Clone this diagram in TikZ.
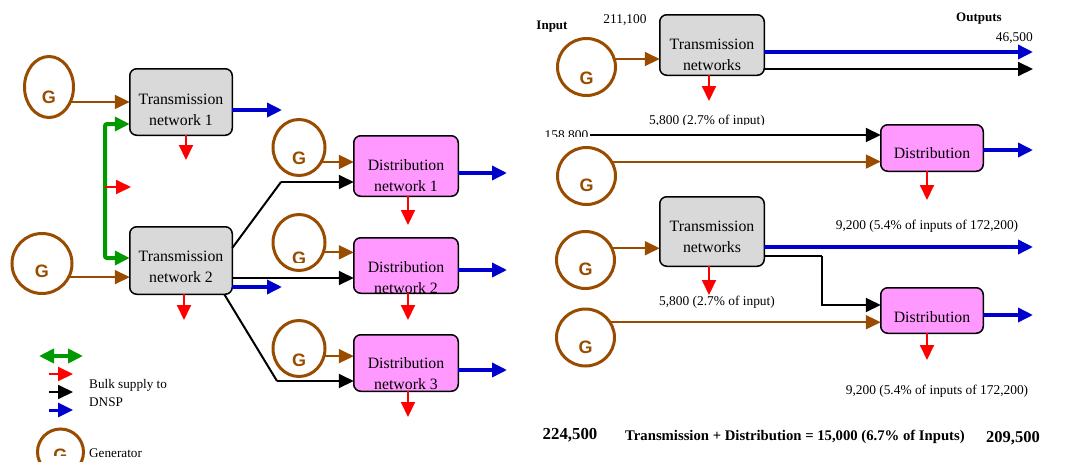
\documentclass[tikz,border=0pt]{standalone}
\usepackage{fontspec}
\setmainfont{Liberation Serif}
\newfontfamily\gfont{Liberation Sans}
\usetikzlibrary{arrows.meta,shapes.geometric,calc}

\definecolor{genbrown}{RGB}{153,76,0}
\definecolor{outblue}{RGB}{0,0,204}
\definecolor{busgreen}{RGB}{0,153,0}
\definecolor{lossred}{RGB}{255,0,0}
\definecolor{boxgray}{RGB}{217,217,217}
\definecolor{boxpink}{RGB}{255,153,255}

\tikzset{
  gen/.style={ellipse, draw=genbrown, line width=3pt, inner sep=0pt, outer sep=0pt},
  gletter/.style={font=\gfont\bfseries\fontsize{18}{18}\selectfont, text=genbrown, inner sep=0pt},
  tbox/.style={draw, line width=1.5pt, rounded corners=7pt, fill=boxgray, inner sep=0pt, outer sep=0pt},
  dbox/.style={tbox, fill=boxpink},
  boxtext/.style={font=\fontsize{15.8}{21}\selectfont, align=center, inner sep=0pt, draw=none, fill=none},
  inside/.style 2 args={path picture={\node[boxtext] at ([yshift=#2]path picture bounding box.center) {#1};}},
  tip/.style={-{Triangle[length=15pt,width=14pt]}},
  feed/.style={tip, genbrown, line width=2pt},
  bluearr/.style={tip, outblue, line width=3.5pt},
  blackarr/.style={tip, black, line width=2pt},
  redarr/.style={tip, lossred, line width=2pt},
  greenarr/.style={{Triangle[length=15pt,width=14pt]}-{Triangle[length=15pt,width=14pt]}, busgreen, line width=4pt, rounded corners=2pt},
  small/.style={font=\fontsize{13.4}{18}\selectfont, inner sep=0pt},
  smallbold/.style={font=\bfseries\fontsize{13}{16}\selectfont, inner sep=0pt},
  total/.style={font=\bfseries\fontsize{16.8}{20}\selectfont, inner sep=0pt},
}

\begin{document}
\begin{tikzpicture}[x=1pt,y=-1pt]
\useasboundingbox (0,0) rectangle (1088,461);
\clip (0,0) rectangle (1088,461);

% ---------------- network with several distribution networks ----------------
% generators feeding the transmission networks
\node[gen, minimum width=49pt, minimum height=61pt] (g1) at (49,87) {};
\node[gletter] at ([yshift=-10pt]g1.center) {G};
\node[gen, minimum width=60pt, minimum height=60pt] (g2) at (42,263.5) {};
\node[gletter] at ([yshift=-7.5pt]g2.center) {G};

% transmission networks
\node[tbox, minimum width=102.5pt, minimum height=66.5pt, inside={Transmission\\network 1}{-8pt}] (tn1) at (181,102) {};
\node[tbox, minimum width=102.5pt, minimum height=67.5pt, inside={Transmission\\network 2}{-6.5pt}] (tn2) at (181,260.5) {};

% distribution networks
\node[dbox, minimum width=104.5pt, minimum height=60.5pt, inside={Distribution\\network 1}{-9.5pt}] (dn1) at (406,166) {};
\node[dbox, minimum width=104.5pt, minimum height=55.5pt, inside={Distribution\\network 2}{-12pt}] (dn2) at (406,265.5) {};
\node[dbox, minimum width=104.5pt, minimum height=56.5pt, inside={Distribution\\network 3}{-11pt}] (dn3) at (406,363) {};

% embedded generators at the distribution networks
\node[gen, minimum width=52pt, minimum height=56pt] (gd1) at (299,147.5) {};
\node[gletter] at ([yshift=-10.5pt]gd1.center) {G};
\node[gen, minimum width=52pt, minimum height=56pt] (gd2) at (299,242.5) {};
\begin{scope}
  \clip (270,240) rectangle (330,262.5);
  \node[gletter] at ([yshift=-16pt]gd2.center) {G};
\end{scope}
\node[gen, minimum width=52pt, minimum height=56pt] (gd3) at (299,348.5) {};
\node[gletter] at ([yshift=-11.5pt]gd3.center) {G};

% generator connections
\draw[feed] (g1.-35) -- (g1.-35 -| tn1.west);
\draw[feed] (g2.-27) -- (g2.-27 -| tn2.west);
\draw[feed] (gd1.-33) -- (gd1.-33 -| dn1.west);
\draw[feed] (gd2.-22) -- (gd2.-22 -| dn2.west);
\draw[feed] (gd3.-17) -- (gd3.-17 -| dn3.west);

% interconnector between the transmission networks
\coordinate (bustop) at (105,124);
\coordinate (busbot) at (105,258);
\coordinate (busmid) at (105,187);
\coordinate (busloss) at (131,187);
\draw[greenarr] (tn1.west |- bustop) -- (bustop) -- (busbot) -- (tn2.west |- busbot);
\draw[redarr] (busmid) -- (busloss);

% bulk supply from transmission network 2
\coordinate (k1) at (281,182);
\coordinate (k3) at (277,381);
\draw[black, line width=2pt] ([yshift=12.5pt]tn2.east) -- (k1);
\draw[blackarr] (k1) -- (dn1.west |- k1);
\draw[blackarr] ([yshift=-17.5pt]tn2.east) -- ([yshift=-17.5pt]tn2.east -| dn2.west);
\draw[black, line width=2pt] ([xshift=-8pt]tn2.south east) -- (k3);
\draw[blackarr] (k3) -- (dn3.west |- k3);

% outputs
\coordinate (o1) at (282,110);
\coordinate (o2) at (282,287);
\coordinate (o3) at (507,173);
\coordinate (o4) at (507,270);
\coordinate (o5) at (507,370);
\draw[bluearr] (tn1.east |- o1) -- (o1);
\draw[bluearr] (tn2.east |- o2) -- (o2);
\draw[bluearr] (dn1.east |- o3) -- (o3);
\draw[bluearr] (dn2.east |- o4) -- (o4);
\draw[bluearr] (dn3.east |- o5) -- (o5);

% losses
\coordinate (l1) at (186,160);
\coordinate (l2) at (184,320);
\coordinate (l3) at (408,225);
\coordinate (l4) at (408,320);
\coordinate (l5) at (408,417);
\draw[redarr] (tn1.south -| l1) -- (l1);
\draw[redarr] (tn2.south -| l2) -- (l2);
\draw[redarr] (dn1.south -| l3) -- (l3);
\draw[redarr] (dn2.south -| l4) -- (l4);
\draw[redarr] (dn3.south -| l5) -- (l5);

% legend
\coordinate (lga) at (39,356);  \coordinate (lgb) at (83,356);
\coordinate (lra) at (49,374);  \coordinate (lrb) at (73,374);
\coordinate (lka) at (49,392);  \coordinate (lkb) at (73,392);
\coordinate (lba) at (49,410);  \coordinate (lbb) at (73,410);
\draw[busgreen, line width=4pt, {Triangle[length=15pt,width=14pt]}-{Triangle[length=15pt,width=14pt]}] (lga) -- (lgb);
\draw[redarr] (lra) -- (lrb);
\draw[blackarr] (lka) -- (lkb);
\draw[bluearr, line width=3pt] (lba) -- (lbb);
\node[small, anchor=west, align=left, font=\fontsize{13.2}{18}\selectfont] (legbulk) at (89,393) {Bulk supply to\\DNSP};
\node[gen, minimum width=46pt, minimum height=46pt] (gleg) at (60.5,452) {};
\begin{scope}
  \clip (40,440) rectangle (80,455);
  \node[gletter] at ([yshift=-3pt]gleg.center) {G};
\end{scope}
\node[small, anchor=west, font=\fontsize{13.2}{18}\selectfont] (leggen) at (89,453) {Generator};

% ---------------- aggregated balance ----------------
\node[smallbold] (inlbl) at (552,27) {Input};
\node[small] (inval) at (625,20) {211,100};
\node[smallbold] (outlbl) at (979,19) {Outputs};
\node[small, anchor=east] (outval) at (1033,38) {46,500};

\node[gen, minimum width=58pt, minimum height=57pt] (ga) at (586.5,67) {};
\node[gletter] at ([yshift=-11pt]ga.center) {G};
\node[gen, minimum width=58pt, minimum height=57pt] (gb) at (586.5,176) {};
\node[gletter] at ([yshift=-9pt]gb.center) {G};
\node[gen, minimum width=58pt, minimum height=57pt] (gc) at (585.5,260) {};
\node[gletter] at ([yshift=-9pt]gc.center) {G};
\node[gen, minimum width=58pt, minimum height=57pt] (ge) at (585.5,337.5) {};
\node[gletter] at ([yshift=-9.5pt]ge.center) {G};

\node[tbox, minimum width=104.5pt, minimum height=60.5pt, inside={Transmission\\networks}{-10pt}] (tna) at (712,45) {};
\node[tbox, minimum width=104.5pt, minimum height=69.5pt, inside={Transmission\\networks}{-5pt}] (tnb) at (712,231.5) {};
\node[dbox, minimum width=102.5pt, minimum height=46.5pt, inside={Distribution}{-5pt}] (da) at (932,148) {};
\node[dbox, minimum width=102.5pt, minimum height=45.5pt, inside={Distribution}{-6.5pt}] (db) at (932,310.5) {};

% generation into the networks
\draw[feed] (ga.16) -- (ga.16 -| tna.west);
\draw[feed] (gb.30) -- (gb.30 -| da.west);
\draw[feed] (gc.24) -- (gc.24 -| tnb.west);
\draw[feed] (ge.32) -- (ge.32 -| db.west);

% bulk supply
\begin{scope}
  \clip (530,120) rectangle (600,136.3);
  \node[small, anchor=base] (bulklbl) at (566.5,139.5) {158,800};
\end{scope}
\coordinate (bulk) at (590,135);
\draw[blackarr] (bulk) -- (da.west |- bulk);
\coordinate (kb) at (822,256);
\draw[black, line width=2pt] (tnb.east |- kb) -- (kb);
\draw[blackarr] (kb) |- ([yshift=5.5pt]db.west);

% outputs
\coordinate (oa) at (1033,52);
\coordinate (ob) at (1033,69);
\coordinate (oc) at (1033,150);
\coordinate (od) at (1033,247);
\coordinate (oe) at (1033,315);
\draw[bluearr] (tna.east |- oa) -- (oa);
\draw[blackarr] (tna.east |- ob) -- (ob);
\draw[bluearr] (da.east |- oc) -- (oc);
\draw[bluearr] (tnb.east |- od) -- (od);
\draw[bluearr] (db.east |- oe) -- (oe);

% losses
\coordinate (la) at (709,101);
\coordinate (lb) at (927,200);
\coordinate (lc) at (709,295);
\coordinate (ld) at (927,360);
\draw[redarr] (tna.south -| la) -- (la);
\draw[redarr] (da.south -| lb) -- (lb);
\draw[redarr] (tnb.south -| lc) -- (lc);
\draw[redarr] (db.south -| ld) -- (ld);

\begin{scope}
  \clip (620,105) rectangle (800,124);
  \node[small, anchor=base] (lossa) at (707,124.5) {5,800 (2.7\% of input)};
\end{scope}
\node[small] (lossb) at (927,226) {9,200 (5.4\% of inputs of 172,200)};
\node[small] (lossc) at (717,302) {5,800 (2.7\% of input)};
\node[small] (lossd) at (937,391) {9,200 (5.4\% of inputs of 172,200)};

% totals
\node[total] (totin) at (570,435) {224,500};
\node[smallbold, font=\bfseries\fontsize{14.7}{18}\selectfont] (totloss) at (795,437) {Transmission + Distribution = 15,000 (6.7\% of Inputs)};
\node[total, font=\bfseries\fontsize{16.5}{20}\selectfont] (totout) at (1013,438) {209,500};
\end{tikzpicture}
\end{document}
